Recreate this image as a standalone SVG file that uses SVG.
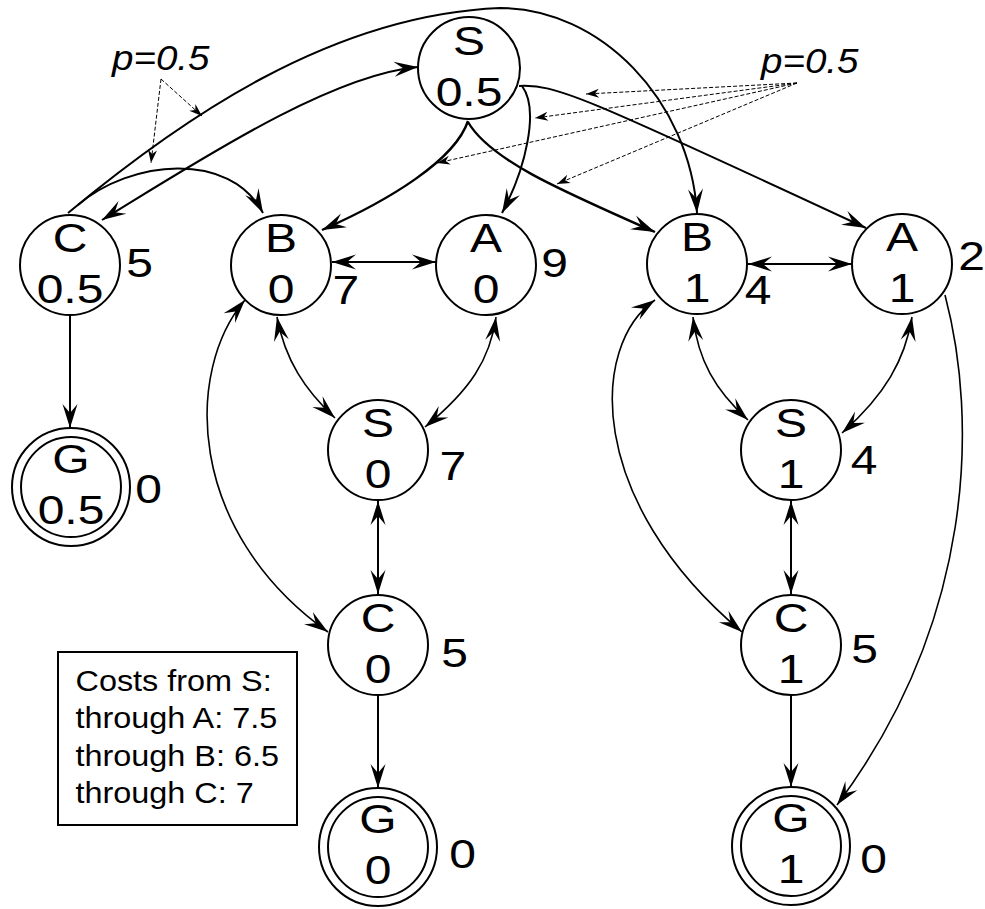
<svg xmlns="http://www.w3.org/2000/svg" width="985" height="909" viewBox="0 0 985 909">
  <defs>
    <marker id="ah" markerUnits="userSpaceOnUse" markerWidth="30" markerHeight="20" viewBox="-26 -10 30 20" refX="0" refY="0" orient="auto-start-reverse" overflow="visible">
      <path d="M0,0 L-24,-7.5 L-15,0 L-24,7.5 Z" fill="#000"/>
    </marker>
    <marker id="dh" markerUnits="userSpaceOnUse" markerWidth="20" markerHeight="16" viewBox="-16 -8 20 16" refX="0" refY="0" orient="auto" overflow="visible">
      <path d="M0,0 L-13,-4.5 L-9,0 L-13,4.5 Z" fill="#000"/>
    </marker>
  </defs>
  <style>
    .node circle { fill: #fff; stroke: #000; stroke-width: 2; }
    .node text { font-family: "Liberation Sans", Arial, sans-serif; font-size: 40px; fill: #000; }
    .node .c { text-anchor: middle; }
    .edge { fill: none; stroke: #000; stroke-width: 2; }
    .thin { stroke-width: 1.6; }
    .one { marker-end: url(#ah); }
    .two { marker-start: url(#ah); marker-end: url(#ah); }
    .dash { fill: none; stroke: #000; stroke-width: 1; stroke-dasharray: 4 2; marker-end: url(#dh); }
    .plabel { font-family: "Liberation Sans", Arial, sans-serif; font-style: italic; font-size: 35px; fill: #000; }
    .legend text { font-family: "Liberation Sans", Arial, sans-serif; font-size: 30px; fill: #000; }
  </style>
  <rect width="985" height="909" fill="#fff"/>

  <!-- connectors -->
  <g id="connectors">
    <!-- C/0.5 to B/1 over the top -->
    <path class="edge one" d="M68,213 C180,120 330,15 500,8 C600,8 690,100 697,213"/>
    <!-- C/0.5 and S/0.5 -->
    <path class="edge two" d="M102,220 C200,160 330,75 418,67"/>
    <!-- C/0.5 to B/0 -->
    <path class="edge one" d="M78,205 C130,160 230,150 263,213"/>
    <!-- S/0.5 outcomes -->
    <path class="edge one" style="stroke-width:2.4" d="M468,121 C455,160 390,200 322,230"/>
    <path class="edge one" d="M522,86 C540,110 525,170 502,213"/>
    <path class="edge one" style="stroke-width:2.4" d="M468,122 C490,160 560,190 655,232"/>
    <path class="edge one" d="M519,86 C555,84 580,95 866,228"/>
    <!-- layer 0 -->
    <path class="edge two" d="M332,262 L436,262"/>
    <path class="edge thin two" d="M277,317 C285,360 305,390 335,418"/>
    <path class="edge thin two" d="M496,317 C490,360 470,390 425,427"/>
    <path class="edge two" d="M378,501 L378,594"/>
    <path class="edge thin two" d="M245,300 C185,370 185,530 328,632"/>
    <path class="edge one" d="M378,696 L378,788"/>
    <path class="edge one" d="M70,316 L70,428"/>
    <!-- layer 1 -->
    <path class="edge two" d="M748,264 L852,264"/>
    <path class="edge thin two" d="M693,317 C698,360 715,390 748,420"/>
    <path class="edge thin two" d="M912,317 C905,360 885,395 842,433"/>
    <path class="edge two" d="M791,501 L791,594"/>
    <path class="edge thin two" d="M655,300 C590,345 585,500 742,632"/>
    <path class="edge one" d="M791,696 L791,787"/>
    <path class="edge thin one" d="M945,295 C978,420 975,620 837,805"/>
    <!-- probability pointers -->
    <path class="dash" d="M161,79 L151,163"/>
    <path class="dash" d="M161,79 L202,116"/>
    <path class="dash" d="M797,83 L586,94"/>
    <path class="dash" d="M797,83 L535,118"/>
    <path class="dash" d="M797,83 L437,163"/>
    <path class="dash" d="M797,83 L557,184"/>
  </g>

  <!-- probability labels -->
  <g id="p-left" transform="translate(112,70) scale(1.1,1)"><text class="plabel">p=0.5</text></g>
  <g id="p-right" transform="translate(761,73) scale(1.1,1)"><text class="plabel">p=0.5</text></g>

  <!-- nodes -->
  <g id="S05" class="node" transform="translate(469,68)">
    <circle r="51"/>
    <g transform="scale(1.2,1)"><text class="c" y="-13">S</text><text class="c" y="38">0.5</text></g>
  </g>
  <g id="C05" class="node" transform="translate(70,265)">
    <circle r="50"/>
    <g transform="scale(1.2,1)"><text class="c" y="-13">C</text><text class="c" y="38">0.5</text><text x="46.8" y="12">5</text></g>
  </g>
  <g id="B0" class="node" transform="translate(281,265)">
    <circle r="50"/>
    <g transform="scale(1.2,1)"><text class="c" y="-13">B</text><text class="c" y="38">0</text><text x="43" y="39">7</text></g>
  </g>
  <g id="A0" class="node" transform="translate(486,265)">
    <circle r="50"/>
    <g transform="scale(1.2,1)"><text class="c" y="-13">A</text><text class="c" y="38">0</text><text x="46" y="12">9</text></g>
  </g>
  <g id="B1" class="node" transform="translate(697,264)">
    <circle r="50"/>
    <g transform="scale(1.2,1)"><text class="c" y="-13">B</text><text class="c" y="38">1</text><text x="39.8" y="40">4</text></g>
  </g>
  <g id="A1" class="node" transform="translate(902,264)">
    <circle r="50"/>
    <g transform="scale(1.2,1)"><text class="c" y="-13">A</text><text class="c" y="38">1</text><text x="46.8" y="6">2</text></g>
  </g>
  <g id="G05" class="node" transform="translate(71,487)">
    <circle r="59"/>
    <circle r="50"/>
    <g transform="scale(1.2,1)"><text class="c" y="-14">G</text><text class="c" y="37">0.5</text><text x="53.5" y="16">0</text></g>
  </g>
  <g id="S0" class="node" transform="translate(378,450)">
    <circle r="50"/>
    <g transform="scale(1.2,1)"><text class="c" y="-13">S</text><text class="c" y="38">0</text><text x="51.3" y="30">7</text></g>
  </g>
  <g id="C0" class="node" transform="translate(378,645)">
    <circle r="50"/>
    <g transform="scale(1.2,1)"><text class="c" y="-13">C</text><text class="c" y="38">0</text><text x="52.7" y="22">5</text></g>
  </g>
  <g id="G0" class="node" transform="translate(378,847)">
    <circle r="59"/>
    <circle r="50"/>
    <g transform="scale(1.2,1)"><text class="c" y="-14">G</text><text class="c" y="37">0</text><text x="59.3" y="21">0</text></g>
  </g>
  <g id="S1" class="node" transform="translate(791,450)">
    <circle r="50"/>
    <g transform="scale(1.2,1)"><text class="c" y="-13">S</text><text class="c" y="38">1</text><text x="49.8" y="24">4</text></g>
  </g>
  <g id="C1" class="node" transform="translate(791,645)">
    <circle r="50"/>
    <g transform="scale(1.2,1)"><text class="c" y="-13">C</text><text class="c" y="38">1</text><text x="50.2" y="18">5</text></g>
  </g>
  <g id="G1" class="node" transform="translate(791,846)">
    <circle r="59"/>
    <circle r="50"/>
    <g transform="scale(1.2,1)"><text class="c" y="-14">G</text><text class="c" y="37">1</text><text x="57.7" y="27">0</text></g>
  </g>

  <!-- cost summary -->
  <g id="legend" class="legend">
    <rect x="58" y="652" width="239" height="173" fill="#fff" stroke="#000" stroke-width="2"/>
    <g transform="translate(75.5,0) scale(1.08,1)">
      <text y="691">Costs from S:</text>
      <text y="728.5">through A: 7.5</text>
      <text y="766">through B: 6.5</text>
      <text y="803.5">through C: 7</text>
    </g>
  </g>
</svg>
